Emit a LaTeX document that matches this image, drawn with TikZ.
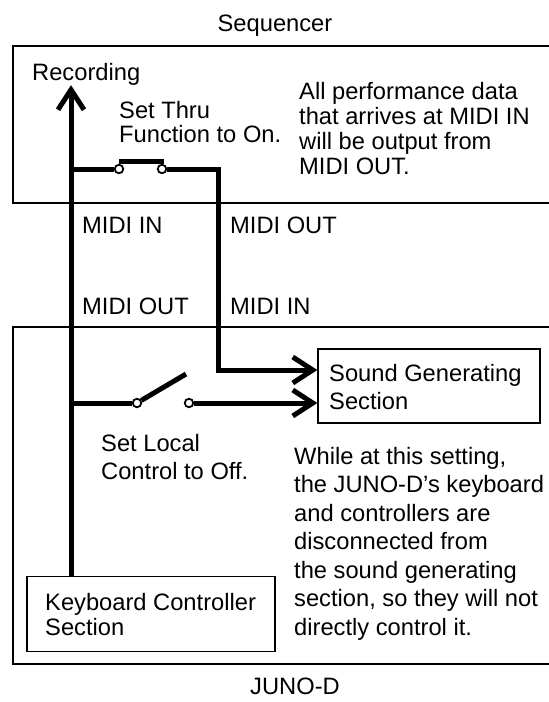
\documentclass[tikz,border=0pt]{standalone}
\usepackage{fontspec}
\setmainfont{Liberation Sans}
\usetikzlibrary{arrows.meta,calc}
\newcommand{\txtlines}[1]{\begin{tabular}[t]{@{}l@{}}#1\end{tabular}}
\begin{document}
\begin{tikzpicture}[x=1pt,y=-1pt,
  wire/.style={line width=5pt, line join=miter},
  frame/.style={draw, line width=2pt},
  box/.style={draw, line width=1.3pt, inner sep=0},
  contact/.style={circle, draw, fill=white, line width=1.8pt, minimum size=8.5pt, inner sep=0},
  lbl/.style={inner sep=0, anchor=base west, font=\fontsize{23.7}{24}\selectfont},
  clbl/.style={inner sep=0, anchor=base, font=\fontsize{23.7}{24}\selectfont},
  tip/.style={-{Straight Barb[length=20pt,width=26pt,line width=5pt]}}
]
\useasboundingbox (0,0) rectangle (549,702);
\clip (0,0) rectangle (549,702);

% device frames
\draw[frame] (13,46) rectangle (620,203);
\draw[frame] (13,327) rectangle (620,664);

% titles
\node[clbl] (seq) at (275,31) {Sequencer};
\node[clbl] (juno) at (295,694) {JUNO-D};

% labels
\node[lbl] (rec) at (32,80) {Recording};
\node[lbl] (thru) at (119,118) {\txtlines{Set Thru\\Function to On.}};
\node[lbl, font=\fontsize{23.7}{25}\selectfont] (note1) at (299,99)
  {\txtlines{All performance data\\that arrives at MIDI IN\\will be output from\\MIDI OUT.}};
\node[lbl] (in1) at (82,233) {MIDI IN};
\node[lbl] (out1) at (230,233) {MIDI OUT};
\node[lbl] (out2) at (82,314) {MIDI OUT};
\node[lbl] (in2) at (230,314) {MIDI IN};
\node[lbl, font=\fontsize{23.7}{28}\selectfont] (local) at (101,451)
  {\txtlines{Set Local\\Control to Off.}};
\node[lbl, font=\fontsize{23.7}{28.5}\selectfont] (note2) at (294,464)
  {\txtlines{While at this setting,\\the JUNO-D’s keyboard\\and controllers are\\disconnected from\\the sound generating\\section, so they will not\\directly control it.}};

% sections
\node[box, minimum width=222pt, minimum height=74pt] (snd) at (429,386) {};
\node[lbl, font=\fontsize{23.7}{28}\selectfont] (sndt) at (329,381)
  {\txtlines{Sound Generating\\Section}};
\node[box, minimum width=248pt, minimum height=75pt] (kbd) at (151,614) {};
\node[lbl, font=\fontsize{23.7}{25}\selectfont] (kbdt) at (45,610)
  {\txtlines{Keyboard Controller\\Section}};

% switch points
\coordinate (jt) at (71,169);
\coordinate (jl) at (71,403);
\coordinate (bend) at (218,370);
\coordinate (armend) at (186,374);
\node[contact] (t1) at (119,169) {};
\node[contact] (t2) at (162,169) {};
\node[contact] (l1) at (137,403) {};
\node[contact] (l2) at (189,403) {};

% wires
\draw[wire, tip] (kbd.north -| jt) -- (rec.south -| jt);
\draw[wire] (jt) -- (t1.west);
\draw[wire] ($(t1.north)+(0,-2.5)$) -- ($(t2.north)+(2,-2.5)$);
\draw[wire, tip] (t2.east) -| (bend) -- ($(snd.west)+(0,-16)$);
\draw[wire] (jl) -- (l1.west);
\draw[wire] (l1.31) -- (armend);
\draw[wire, tip] (l2.east) -- ($(snd.west)+(0,17)$);
\end{tikzpicture}
\end{document}
